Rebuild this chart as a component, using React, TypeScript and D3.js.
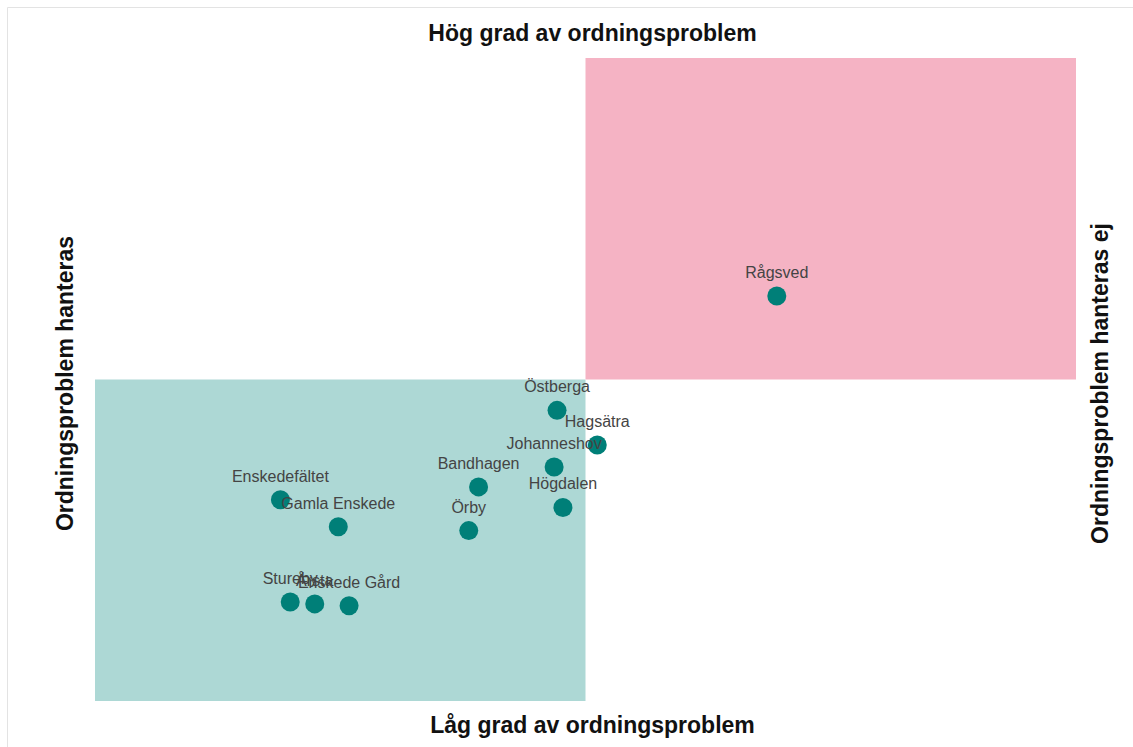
import React from 'react';
import * as d3 from 'd3';

// districts and their position in the quadrant (0-100 on both axes)
const names = ['Rågsved', 'Östberga', 'Hagsätra', 'Johanneshov', 'Bandhagen', 'Högdalen', 'Örby', 'Enskedefältet', 'Gamla Enskede', 'Stureby', 'Årsta', 'Enskede Gård'];
const xValues = [69.5, 47.1, 51.2, 46.8, 39.1, 47.7, 38.1, 18.9, 24.8, 19.9, 22.4, 25.9];
const yValues = [63.0, 45.2, 39.8, 36.4, 33.3, 30.1, 26.5, 31.3, 27.1, 15.4, 15.1, 14.8];

// quadrant boxes [x0, x1, y0, y1]
const quadrants = [
  { name: 'hanteras', x0: 0, x1: 50, y0: 0, y1: 50, color: '#add8d5' },
  { name: 'hanteras ej', x0: 50, x1: 100, y0: 50, y1: 100, color: '#f5b3c4' },
];

const titleTop = 'Hög grad av ordningsproblem';
const titleBottom = 'Låg grad av ordningsproblem';
const titleLeft = 'Ordningsproblem hanteras';
const titleRight = 'Ordningsproblem hanteras ej';

const W = 1133;
const H = 747;
const margin = { top: 58, right: 57, bottom: 46, left: 95 };

const App: React.FC = () => {
  const x = d3.scaleLinear().domain([0, 100]).range([margin.left, W - margin.right]);
  const y = d3.scaleLinear().domain([0, 100]).range([H - margin.bottom, margin.top]);
  const font = 'Arial, "Liberation Sans", Helvetica, sans-serif';
  const cx = (x(0) + x(100)) / 2 + 7;
  const cy = (y(0) + y(100)) / 2 + 4;

  return (
    <svg width={W} height={H} style={{ position: 'absolute', left: 0, top: 0, background: '#fff' }} fontFamily={font}>
      <line x1={7.5} x2={W} y1={7.5} y2={7.5} stroke="#e3e3e3" />
      <line x1={7.5} x2={7.5} y1={7.5} y2={H} stroke="#e3e3e3" />
      {quadrants.map(q => (
        <rect key={q.name} x={x(q.x0)} y={y(q.y1)} width={x(q.x1) - x(q.x0)} height={y(q.y0) - y(q.y1)} fill={q.color} />
      ))}
      <text x={cx} y={41} textAnchor="middle" fontSize={23} fontWeight="bold" fill="#111">{titleTop}</text>
      <text x={cx} y={733} textAnchor="middle" fontSize={23} fontWeight="bold" fill="#111">{titleBottom}</text>
      <text transform={`translate(73,${cy}) rotate(-90)`} textAnchor="middle" fontSize={23} fontWeight="bold" fill="#111">{titleLeft}</text>
      <text transform={`translate(1108,${cy}) rotate(-90)`} textAnchor="middle" fontSize={23} fontWeight="bold" fill="#111">{titleRight}</text>
      {names.map((n, i) => (
        <g key={n}>
          <circle cx={x(xValues[i])} cy={y(yValues[i])} r={9.5} fill="#007f78" />
        </g>
      ))}
      {names.map((n, i) => (
        <text key={n} x={x(xValues[i])} y={y(yValues[i]) - 18} textAnchor="middle" fontSize={16} fill="#444">{n}</text>
      ))}
    </svg>
  );
};

export default App;
